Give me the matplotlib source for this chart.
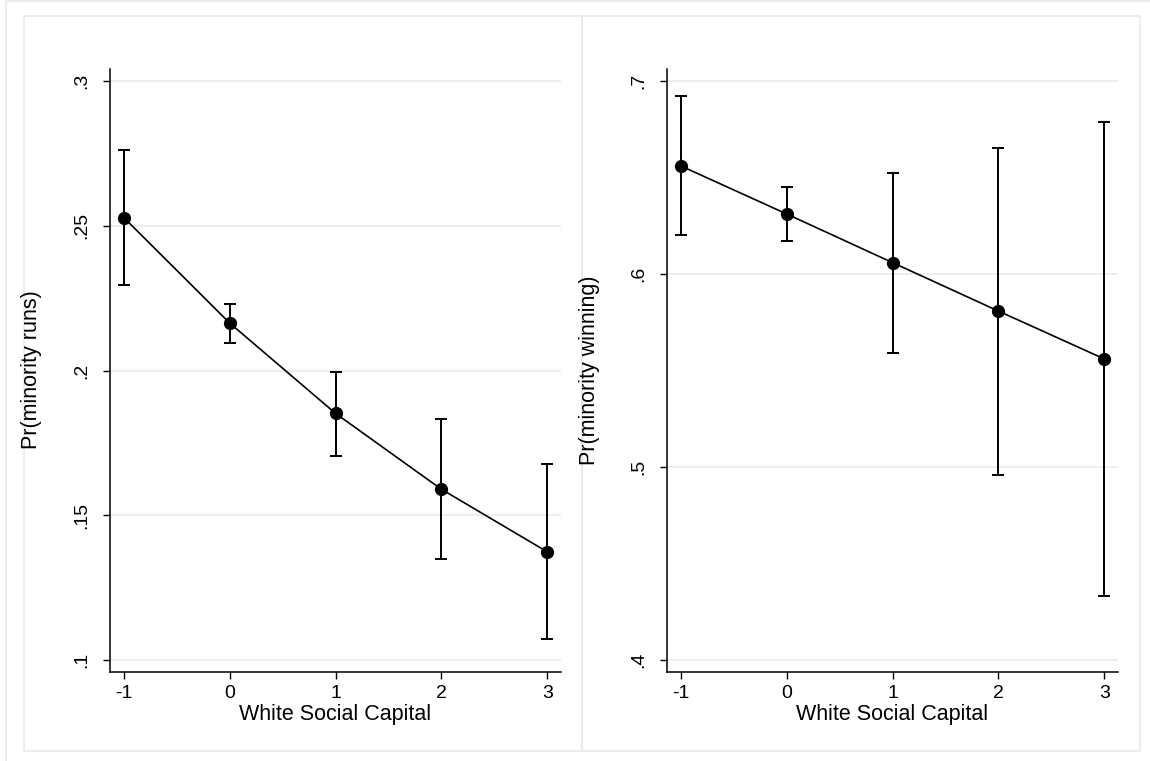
import numpy as np
import matplotlib
matplotlib.use("Agg")
import matplotlib.pyplot as plt
from matplotlib.patches import Rectangle

plt.rcParams['font.family'] = ['Liberation Sans', 'DejaVu Sans']

# data
wsc = [-1, 0, 1, 2, 3]

runs = [0.2528, 0.2164, 0.1852, 0.1590, 0.1374]
runs_lo = [0.2294, 0.2095, 0.1705, 0.1350, 0.1074]
runs_hi = [0.2760, 0.2230, 0.1994, 0.1831, 0.1678]

win = [0.6560, 0.6311, 0.6059, 0.5808, 0.5560]
win_lo = [0.6202, 0.6173, 0.5589, 0.4959, 0.4332]
win_hi = [0.6922, 0.6449, 0.6523, 0.6654, 0.6788]

runs_ticks = [0.1, 0.15, 0.2, 0.25, 0.3]
runs_labels = ['.1', '.15', '.2', '.25', '.3']
win_ticks = [0.4, 0.5, 0.6, 0.7]
win_labels = ['.4', '.5', '.6', '.7']
x_ticks = [-1, 0, 1, 2, 3]
x_labels = ['-1', '0', '1', '2', '3']

W, H = 1150, 761
fig = plt.figure(figsize=(W / 100, H / 100), dpi=100)
fig.patch.set_facecolor('white')

border = '#e4ecee'
grid_col = '#e8eff1'


def px_rect(x0, y0, x1, y1):
    return Rectangle((x0 / W, 1 - y1 / H), (x1 - x0) / W, (y1 - y0) / H,
                     transform=fig.transFigure, fill=False,
                     edgecolor=border, linewidth=1.2)


# outer region and the two panel frames
fig.patches.append(px_rect(6, 1, 1152, 765))
fig.patches.append(px_rect(24, 16, 582, 751))
fig.patches.append(px_rect(582, 16, 1140, 751))


def panel(left_px, y, lo, hi, ylim, yticks, ylabels, ylabel):
    ax = fig.add_axes([left_px / W, (H - 672) / H, 451 / W, 603 / H])
    ax.set_facecolor('white')
    err = [np.array(y) - np.array(lo), np.array(hi) - np.array(y)]
    ax.errorbar(wsc, y, yerr=err, fmt='none', ecolor='black',
                elinewidth=1.4, capsize=4, capthick=1.4, zorder=3)
    ax.plot(wsc, y, color='black', linewidth=1.2, marker='o',
            markersize=8.5, markerfacecolor='black', zorder=4)
    ax.set_xlim(-1.13, 3.13)
    ax.set_ylim(*ylim)
    ax.set_xticks(x_ticks)
    ax.set_xticklabels(x_labels)
    ax.set_yticks(yticks)
    ax.set_yticklabels(ylabels, rotation=90, va='center')
    ax.grid(axis='y', color=grid_col, linewidth=1.3)
    ax.set_axisbelow(True)
    for s in ['top', 'right']:
        ax.spines[s].set_visible(False)
    for s in ['left', 'bottom']:
        ax.spines[s].set_linewidth(1.1)
    ax.tick_params(direction='out', length=5, width=1, labelsize=14)
    ax.tick_params(axis='x', pad=4)
    ax.tick_params(axis='y', pad=9)
    ax.set_xlabel('White Social Capital', fontsize=15.5)
    ax.xaxis.set_label_coords(0.5, -0.053)
    fig.text((left_px - 78) / W, 1 - 370 / H, ylabel, rotation=90,
             ha='center', va='center', fontsize=15.5)
    return ax


panel(110, runs, runs_lo, runs_hi, (0.0959, 0.3041),
      runs_ticks, runs_labels, 'Pr(minority runs)')
panel(667, win, win_lo, win_hi, (0.3938, 0.7062),
      win_ticks, win_labels, 'Pr(minority winning)')

fig.savefig('out.png', dpi=100, facecolor='white')
